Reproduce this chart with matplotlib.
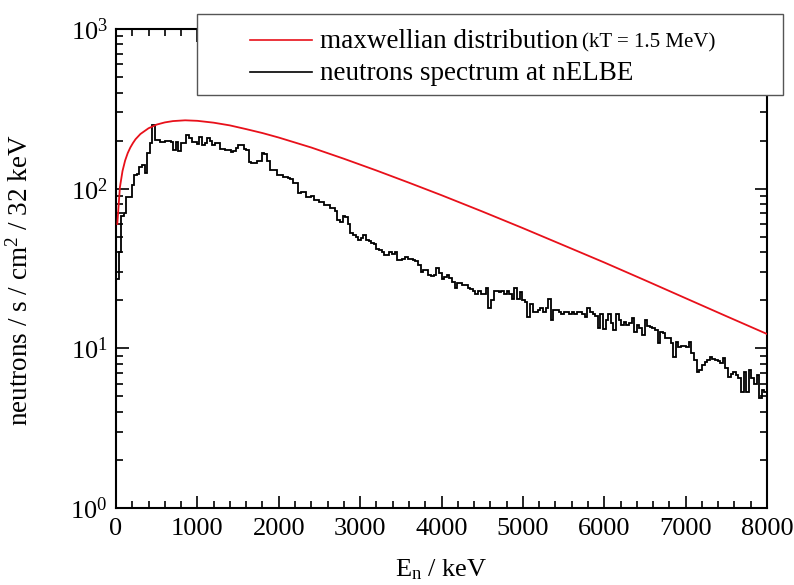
import numpy as np
import matplotlib
matplotlib.use("Agg")
import matplotlib.pyplot as plt
from matplotlib.patches import Rectangle
from matplotlib.lines import Line2D
from matplotlib.ticker import MultipleLocator, LogLocator, NullFormatter

plt.rcParams['font.family'] = ['Liberation Serif', 'DejaVu Serif']
plt.rcParams['mathtext.fontset'] = 'custom'
plt.rcParams['mathtext.rm'] = 'Liberation Serif'
plt.rcParams['mathtext.it'] = 'Liberation Serif:italic'
plt.rcParams['mathtext.bf'] = 'Liberation Serif:bold'

# ---- data ----
BIN_WIDTH_KEV = 32
spectrum = [
    27, 40, 67, 70, 89, 89, 105, 122, 124, 137,
    140, 125, 167, 193, 252, 202, 202, 196, 196, 199,
    199, 195, 175, 196, 172, 193, 193, 216, 208, 196,
    196, 190, 210, 188, 192, 207, 198, 188, 192, 192,
    178, 176, 175, 175, 170, 172, 180, 188, 188, 176,
    174, 147, 145, 145, 148, 150, 167, 165, 150, 131,
    131, 130, 122, 122, 118, 118, 116, 115, 108, 108,
    94, 95, 95, 89, 89, 90, 85, 85, 83, 83,
    79, 79, 76, 76, 72, 64, 62, 67, 66, 60,
    53, 51, 50, 48, 49, 51, 48, 47, 46, 45,
    42, 41, 40, 38.5, 38.5, 40, 39, 40, 36, 36,
    36.5, 37.5, 36.5, 36.5, 36, 35, 33.5, 30, 31, 31,
    29, 28.5, 29, 32, 29.5, 27, 28, 29, 27.5, 26,
    24, 25.5, 25.5, 25, 25, 24, 23.5, 23, 22, 23,
    22, 22, 24, 18, 20, 23, 23, 22.5, 23, 22,
    23, 22, 20.5, 24, 20.5, 22.5, 20, 19.5, 15.6, 19,
    17, 17, 17.5, 18, 17, 18, 20.5, 15, 17.4, 17.4,
    17, 16.5, 17, 17, 16.5, 17, 16.5, 17, 16.8, 16.5,
    15.6, 18, 17, 16.5, 16, 13.5, 16.5, 13.3, 15, 16.5,
    14.5, 13, 16.5, 15, 14, 14.6, 14, 14.5, 15.4, 12.7,
    14, 13.5, 12.2, 15, 13.8, 13.6, 13.5, 13, 10.8, 12.7,
    12.5, 11.6, 11.6, 10.8, 8.8, 11, 10.2, 10.3, 10.4, 10.2,
    11, 9.4, 8.5, 7.1, 7.3, 7.9, 8.2, 8.5, 8.8, 8.6,
    8.4, 8.3, 8.1, 8.7, 7.5, 6.6, 6.9, 7.1, 6.8, 6.5,
    5.3, 7.1, 5.3, 7.3, 6.5, 6.0, 6.8, 4.9, 5.5, 5.3,
]

maxw_energy = [16, 48, 80, 112, 144, 176, 208, 240, 300, 400, 500, 600, 700,
               850, 1000, 1200, 1400, 1600, 1800, 2000, 2400, 2800, 3200,
               3600, 4000, 4500, 5000, 5500, 6000, 6500, 7000, 7500, 8000]
maxw_value = [60, 102, 129, 150, 167, 181, 193, 204, 220, 239, 252, 260, 265,
              268, 266, 259, 249, 236, 223, 209, 181, 154, 130, 109, 91,
              72, 56.6, 44.2, 34.5, 26.7, 20.6, 15.9, 12.3]

xticks = [0, 1000, 2000, 3000, 4000, 5000, 6000, 7000, 8000]
legend_labels = ["maxwellian distribution", "(kT = 1.5 MeV)",
                 "neutrons spectrum at nELBE"]

# ---- figure ----
W, H = 794, 585
fig = plt.figure(figsize=(W / 100, H / 100), dpi=100)
ax = fig.add_axes([116 / W, 1 - 508 / H, (767 - 116) / W, (508 - 29) / H])

edges = np.arange(len(spectrum) + 1) * BIN_WIDTH_KEV
ax.stairs(spectrum, edges, baseline=None, color='black', lw=1.3, zorder=2)
ax.plot(maxw_energy, maxw_value, color='#e8101a', lw=1.3, zorder=3)

ax.set_yscale('log')
ax.set_xlim(0, 8000)
ax.set_ylim(1, 1000)
ax.set_xticks(xticks)
ax.xaxis.set_minor_locator(MultipleLocator(200))
ax.yaxis.set_major_locator(LogLocator(base=10, numticks=10))
ax.yaxis.set_minor_locator(LogLocator(base=10, subs=np.arange(2, 10), numticks=20))
ax.yaxis.set_minor_formatter(NullFormatter())

for s in ax.spines.values():
    s.set_linewidth(1.5)
ax.tick_params(which='both', direction='in', top=True, right=True,
               width=1.2, labelsize=19)
ax.tick_params(which='major', length=9)
ax.tick_params(which='minor', length=5)
ax.tick_params(axis='x', pad=7)
ax.tick_params(axis='y', pad=6)

ax.set_ylabel('neutrons / s / cm$^2$ / 32 keV', fontsize=19.5)
ax.set_xlabel('E$_\\mathrm{n}$ / keV', fontsize=19)
ax.yaxis.set_label_coords(-0.127, 0.476)
ax.xaxis.set_label_coords(0.5, -0.103)

# ---- legend box ----
bx0, by0, bx1, by1 = 197, 14, 783, 95
rect = Rectangle((bx0 / W, 1 - by1 / H), (bx1 - bx0) / W, (by1 - by0) / H,
                 transform=fig.transFigure, facecolor='white',
                 edgecolor='#555555', lw=1.0, zorder=10)
fig.add_artist(rect)
for yy, col in [(40, '#e8101a'), (72, 'black')]:
    fig.add_artist(Line2D([250 / W, 312 / W], [1 - yy / H, 1 - yy / H],
                          transform=fig.transFigure, color=col, lw=1.2,
                          zorder=11))
fig.text(320 / W, 1 - 41 / H, legend_labels[0], fontsize=19.5,
         va='center', ha='left', zorder=12)
fig.text(582 / W, 1 - 43 / H, legend_labels[1], fontsize=15,
         va='center', ha='left', zorder=12)
fig.text(320 / W, 1 - 73 / H, legend_labels[2], fontsize=19.5,
         va='center', ha='left', zorder=12)

fig.savefig('out.png', dpi=100)
